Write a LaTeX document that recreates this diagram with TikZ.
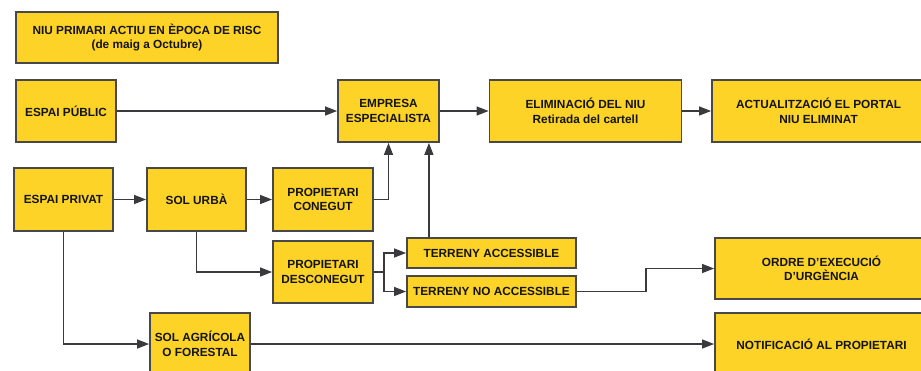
\documentclass[tikz,border=0pt]{standalone}
\usepackage{fontspec}
\setmainfont{Liberation Sans}
\usetikzlibrary{arrows.meta}
\definecolor{groc}{RGB}{253,211,40}
\definecolor{vora}{RGB}{72,72,72}
\definecolor{linia}{RGB}{58,58,62}

\begin{document}
\begin{tikzpicture}[x=1pt,y=-1pt,
  caixa/.style={draw=vora,line width=1.8pt,fill=groc,align=center,inner sep=2pt,
    text=black!92,font=\fontsize{11.8}{14.5}\selectfont\bfseries},
  seta/.style={draw=linia,line width=1.3pt,-{Triangle[length=12pt,width=9pt]}}]
\useasboundingbox (0,0) rectangle (921,370);
\clip (0,0) rectangle (921,370);

% capçalera
\node[caixa,minimum width=262,minimum height=51] (titol) at (147,37.5)
  {NIU PRIMARI ACTIU EN ÈPOCA DE RISC\\(de maig a Octubre)};

% fila 1
\node[caixa,minimum width=100,minimum height=62] (public) at (66,111) {ESPAI PÚBLIC};
\node[caixa,minimum width=101,minimum height=62] (empresa) at (388.5,111) {EMPRESA\\ESPECIALISTA};
\node[caixa,minimum width=192,minimum height=62] (elim) at (585.5,111) {ELIMINACIÓ DEL NIU\\Retirada del cartell};
\node[caixa,minimum width=213,minimum height=62] (actual) at (818.5,111) {ACTUALITZACIÓ EL PORTAL\\NIU ELIMINAT};

% fila 2
\node[caixa,minimum width=99,minimum height=63] (privat) at (63.5,199.5) {ESPAI PRIVAT};
\node[caixa,minimum width=99,minimum height=63] (urba) at (196.5,199.5) {SOL URBÀ};
\node[caixa,minimum width=100,minimum height=63] (conegut) at (323,199.5) {PROPIETARI\\CONEGUT};
\node[caixa,minimum width=100,minimum height=62] (desconegut) at (323,272) {PROPIETARI\\DESCONEGUT};
\node[caixa,minimum width=169,minimum height=30] (accessible) at (491.5,253) {TERRENY ACCESSIBLE};
\node[caixa,minimum width=169,minimum height=31] (noacc) at (491.5,291.5) {TERRENY NO ACCESSIBLE};
\node[caixa,minimum width=213,minimum height=61] (ordre) at (821.5,268.5) {ORDRE D'EXECUCIÓ\\D'URGÈNCIA};

% fila 3
\node[caixa,minimum width=100,minimum height=62] (agricola) at (200,344) {SOL AGRÍCOLA\\O FORESTAL};
\node[caixa,minimum width=213,minimum height=62] (notif) at (821.5,344) {NOTIFICACIÓ AL PROPIETARI};

% fletxes
\draw[seta] (public) -- (empresa);
\draw[seta] (empresa) -- (elim);
\draw[seta] (elim) -- (actual);
\draw[seta] (privat) -- (urba);
\draw[seta] (urba) -- (conegut);
\draw[seta] (conegut.east) -| (empresa.south);
\coordinate (entrada) at ([xshift=-11pt]empresa.south east);
\draw[seta] (accessible.north -| entrada) -- (entrada);
\draw[seta] (urba.south) |- (desconegut.west);
\draw[seta] (desconegut.east) -- ++(10,0) |- (accessible.west);
\draw[seta] (desconegut.east) -- ++(10,0) |- (noacc.west);
\draw[seta] (noacc.east) -- ++(69,0) |- (ordre.west);
\draw[seta] (privat.south) |- (agricola.west);
\draw[seta] (agricola) -- (notif);

\end{tikzpicture}
\end{document}
